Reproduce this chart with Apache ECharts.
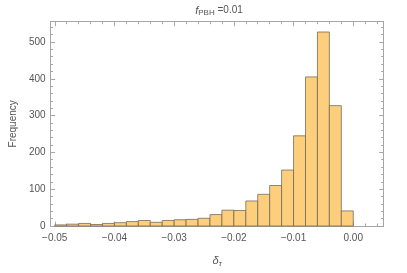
<!DOCTYPE html>
<html>
<head>
<meta charset="utf-8">
<style>
html,body{margin:0;padding:0;background:#fff;}
#chart{width:407px;height:273px;}
</style>
<script src="https://cdn.jsdelivr.net/npm/echarts@6/dist/echarts.min.js"></script>
</head>
<body>
<div id="chart"></div>
<script>
// Histogram bins (left edges, width) and counts
const binLefts = [-0.050,-0.048,-0.046,-0.044,-0.042,-0.040,-0.038,-0.036,-0.034,-0.032,
                  -0.030,-0.028,-0.026,-0.024,-0.022,-0.020,-0.018,-0.016,-0.014,-0.012,
                  -0.010,-0.008,-0.006,-0.004,-0.002];
const binWidth = 0.002;
const counts = [3,5,7,4,7,9,12,15,10,15,17,18,21,31,43,42,68,86,110,152,245,405,527,327,41];
const xMajorTicks = [-0.05,-0.04,-0.03,-0.02,-0.01,0.00];
const yTicks = [0,100,200,300,400,500];

const xMinorTicks = [];
for (let i = 0; i <= 27; i++) xMinorTicks.push(+(-0.05 + i*0.002).toFixed(3));

const frameColor = '#a6a6a6';
const labelColor = '#555555';
const font = 'Liberation Sans, Arial, sans-serif';
const xMin = -0.0507, xMax = 0.0051, yMax = 555;

function fmtX(v){ const s = Math.abs(v).toFixed(2); return (v < -1e-9 ? '\u2212' : '') + s; }

function xAxisDef(pos, vals, len, labels, line){
  return {
    type:'value', position:pos, min:xMin, max:xMax, gridIndex:0,
    axisLine:{show:line, onZero:false, lineStyle:{color:frameColor, width:1}},
    axisTick:{show:true, inside:true, length:len, customValues:vals, lineStyle:{color:frameColor, width:1}},
    axisLabel:{show:labels, customValues:xMajorTicks, formatter:fmtX, color:labelColor, fontSize:10, fontFamily:font, margin:7},
    splitLine:{show:false}
  };
}

function yAxisDef(pos, labels){
  return {
    type:'value', position:pos, min:0, max:yMax, interval:100,
    axisLine:{show:true, onZero:false, lineStyle:{color:frameColor}},
    axisTick:{show:true, inside:true, length:4.5, lineStyle:{color:frameColor}},
    minorTick:{show:true, splitNumber:5, length:2.5, lineStyle:{color:frameColor}},
    axisLabel:{show:labels, color:labelColor, fontSize:10, fontFamily:font, margin:5, showMaxLabel:false},
    splitLine:{show:false}
  };
}

const data = binLefts.map((b,i)=>[b, b+binWidth, counts[i]]);

const option = {
  animation:false,
  title:{
    text:'{i|f}{s|PBH}{n| =0.01}',
    left:214, top:-1, textAlign:'center',
    textStyle:{
      fontWeight:'normal',
      rich:{
        i:{fontStyle:'italic', fontWeight:'normal', fontSize:11, color:labelColor, fontFamily:font},
        s:{fontSize:8, fontWeight:'normal', color:labelColor, fontFamily:font, padding:[5,0,0,0]},
        n:{fontSize:10, fontWeight:'normal', color:labelColor, fontFamily:font}
      }
    }
  },
  grid:{left:45, right:23.3, top:21.7, bottom:41.5, containLabel:false},
  xAxis:[
    Object.assign(xAxisDef('bottom', xMajorTicks, 4.5, true, true), {
      name:'{d|δ}{t|τ}', nameLocation:'middle', nameGap:28,
      nameTextStyle:{rich:{
        d:{fontStyle:'italic', fontSize:11, color:labelColor, fontFamily:font},
        t:{fontStyle:'italic', fontSize:8, color:labelColor, fontFamily:font, padding:[6,0,0,0]}
      }}
    }),
    xAxisDef('bottom', xMinorTicks, 2.5, false, false),
    xAxisDef('top', xMajorTicks, 4.5, false, true),
    xAxisDef('top', xMinorTicks, 2.5, false, false)
  ],
  yAxis:[
    Object.assign(yAxisDef('left', true), {
      name:'Frequency', nameLocation:'middle', nameGap:32, nameRotate:90,
      nameTextStyle:{color:labelColor, fontSize:10, fontFamily:font}
    }),
    yAxisDef('right', false)
  ],
  series:[{
    type:'custom',
    xAxisIndex:0, yAxisIndex:0,
    data:data,
    encode:{x:[0,1], y:2},
    renderItem:function(params, api){
      const p0 = api.coord([api.value(0), 0]);
      const p1 = api.coord([api.value(1), api.value(2)]);
      return {
        type:'rect',
        shape:{x:p0[0], y:p1[1], width:p1[0]-p0[0], height:p0[1]-p1[1]},
        style:{fill:'#fdcf7c', stroke:'rgba(110,100,85,0.75)', lineWidth:1}
      };
    }
  }]
};

const chart = echarts.init(document.getElementById('chart'), null, {renderer:'canvas'});
chart.setOption(option);
</script>
</body>
</html>
